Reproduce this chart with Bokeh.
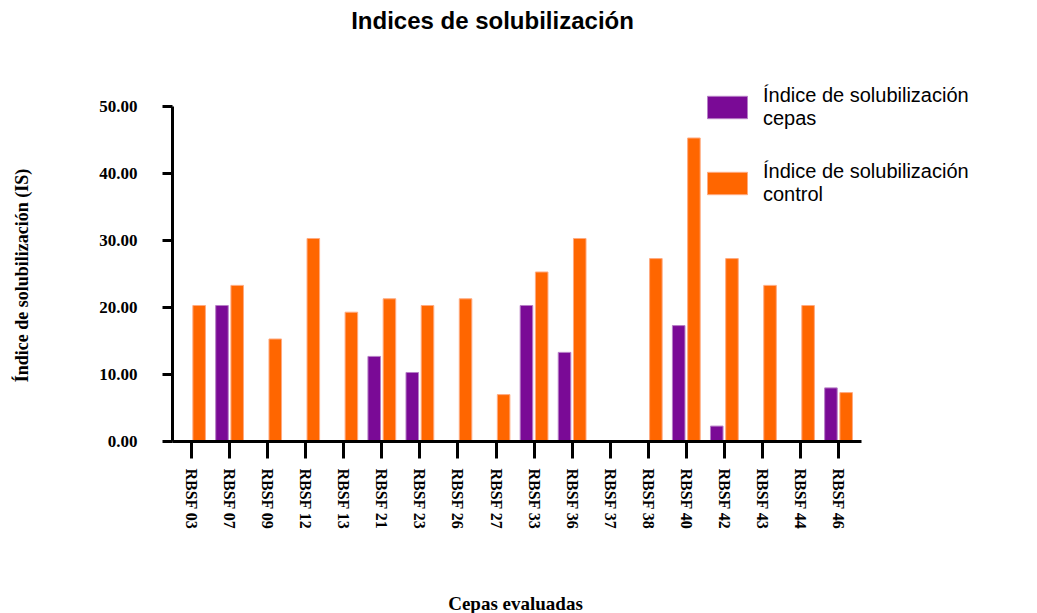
import math
from bokeh.plotting import figure
from bokeh.models import (Range1d, Legend, LegendItem, Label,
                          PrintfTickFormatter, ColumnDataSource, FixedTicker)
from bokeh.transform import dodge
from bokeh.embed import file_html
from bokeh.resources import INLINE

# ---- data ----
cepas = ["RBSF 03", "RBSF 07", "RBSF 09", "RBSF 12", "RBSF 13", "RBSF 21",
         "RBSF 23", "RBSF 26", "RBSF 27", "RBSF 33", "RBSF 36", "RBSF 37",
         "RBSF 38", "RBSF 40", "RBSF 42", "RBSF 43", "RBSF 44", "RBSF 46"]
indice_cepas = [0, 20.3, 0, 0, 0, 12.7, 10.3, 0, 0, 20.3, 13.3, 0,
                0, 17.3, 2.3, 0, 0, 8.0]
indice_control = [20.3, 23.3, 15.3, 30.3, 19.3, 21.3, 20.3, 21.3, 7.0, 25.3,
                  30.3, 0, 27.3, 45.3, 27.3, 23.3, 20.3, 7.3]
y_ticks = [0, 10, 20, 30, 40, 50]

title_text = "Indices de solubilización"
x_label = "Cepas evaluadas"
y_label = "Índice de solubilización (IS)"
label_cepas = "Índice de solubilización\ncepas"
label_control = "Índice de solubilización\ncontrol"

PURPLE = "#7A0A96"
ORANGE = "#FF6600"

# ---- layout constants (pixels) ----
W, H = 1037, 613
LEFT, BOTTOM_Y = 172, 441          # y-axis x position, x-axis y position (from top)
CAT_PX = 38.06                     # pixel width of one category
Y_MAX = 50
PX_PER_UNIT = 335 / Y_MAX          # pixel height of one y unit

n = len(cepas)
idx = list(range(n))
src = ColumnDataSource(dict(x=idx, ic=indice_cepas, ictl=indice_control))

# the frame covers the whole canvas; axes are pinned with fixed_location
x_start = -0.5 - LEFT / CAT_PX
x_end = -0.5 + (W - LEFT) / CAT_PX
y_start = -(H - BOTTOM_Y) / PX_PER_UNIT
y_end = BOTTOM_Y / PX_PER_UNIT

p = figure(width=W, height=H,
           x_range=Range1d(x_start, x_end),
           y_range=Range1d(y_start, y_end),
           output_backend="svg", toolbar_location=None,
           min_border=0, min_border_left=0, min_border_right=0,
           min_border_top=0, min_border_bottom=0)

r1 = p.vbar(x=dodge("x", -0.2), top="ic", width=0.33,
            source=src, fill_color=PURPLE, line_color="#B77FC6", line_width=1)
r2 = p.vbar(x=dodge("x", 0.2), top="ictl", width=0.33,
            source=src, fill_color=ORANGE, line_color="#FFAA80", line_width=1)

p.xgrid.visible = False
p.ygrid.visible = False
p.outline_line_color = None
p.background_fill_color = "white"
p.border_fill_color = "white"

# x axis
xa = p.xaxis[0]
xa.fixed_location = 0
xa.ticker = FixedTicker(ticks=idx)
xa.major_label_overrides = {i: c for i, c in zip(idx, cepas)}
xa.bounds = (-0.5, n - 0.4)
xa.axis_line_width = 3
xa.axis_line_color = "black"
xa.major_tick_line_width = 3
xa.major_tick_out = 17
xa.major_tick_in = 0
xa.minor_tick_line_color = None
xa.major_label_orientation = "vertical"
xa.major_label_standoff = 10
xa.major_label_text_font = "Liberation Serif"
xa.major_label_text_font_style = "bold"
xa.major_label_text_font_size = "16px"
xa.major_label_text_color = "black"

# y axis
ya = p.yaxis[0]
ya.fixed_location = -0.5
ya.ticker = FixedTicker(ticks=y_ticks)
ya.formatter = PrintfTickFormatter(format="%.2f")
ya.bounds = (0, Y_MAX)
ya.axis_line_width = 3
ya.axis_line_color = "black"
ya.major_tick_line_width = 3
ya.major_tick_out = 10
ya.major_tick_in = 0
ya.minor_tick_line_color = None
ya.major_label_standoff = 25
ya.major_label_text_font = "Liberation Serif"
ya.major_label_text_font_style = "bold"
ya.major_label_text_font_size = "17px"
ya.major_label_text_color = "black"

# title and axis titles (screen units: from frame bottom-left, y upward)
p.add_layout(Label(x=492, y=H - 20, x_units="screen", y_units="screen",
                   text=title_text, text_align="center", text_baseline="middle",
                   text_font="Liberation Sans", text_font_style="bold",
                   text_font_size="24px", text_color="black"))
p.add_layout(Label(x=515, y=H - 603, x_units="screen", y_units="screen",
                   text=x_label, text_align="center", text_baseline="middle",
                   text_font="Liberation Serif", text_font_style="bold",
                   text_font_size="19px", text_color="black"))
p.add_layout(Label(x=21, y=H - 275, x_units="screen", y_units="screen",
                   text=y_label, angle=math.pi / 2,
                   text_align="center", text_baseline="middle",
                   text_font="Liberation Serif", text_font_style="bold",
                   text_font_size="18px", text_color="black"))

legend = Legend(items=[LegendItem(label=label_cepas, renderers=[r1]),
                       LegendItem(label=label_control, renderers=[r2])],
                location=(702, H - 206),
                glyph_width=50, glyph_height=28,
                label_standoff=11, padding=0, margin=0, spacing=30,
                border_line_color=None, background_fill_alpha=0,
                label_text_font="Liberation Sans", label_text_font_size="20px",
                label_text_color="black")
p.add_layout(legend)

open("out.html", "w").write(file_html(p, INLINE))
